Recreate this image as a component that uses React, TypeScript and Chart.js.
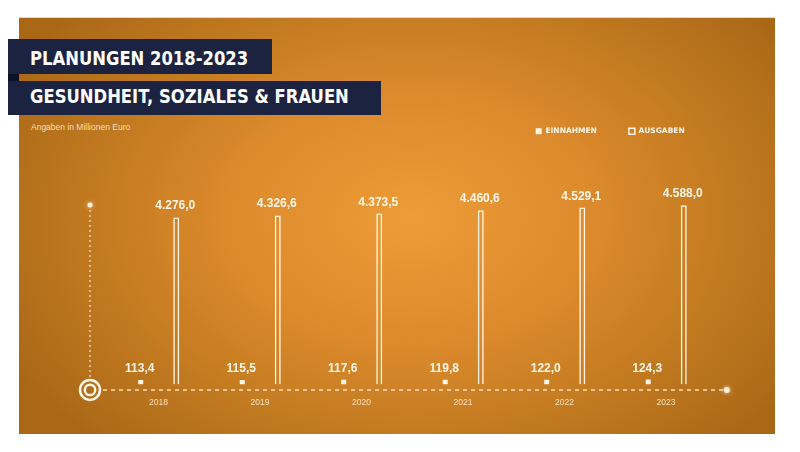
import React, { useEffect, useRef } from "react";
import { Chart, registerables } from "chart.js";

Chart.register(...registerables);

const years = ["2018", "2019", "2020", "2021", "2022", "2023"];
const einnahmen = [113.4, 115.5, 117.6, 119.8, 122.0, 124.3];
const ausgaben = [4276.0, 4326.6, 4373.5, 4460.6, 4529.1, 4588.0];
const seriesNames = ["EINNAHMEN", "AUSGABEN"];
const titleLines = ["PLANUNGEN 2018-2023", "GESUNDHEIT, SOZIALES & FRAUEN"];
const subtitleText = "Angaben in Millionen Euro";

const CREAM = "#fff6e8";

function fmt(v: number): string {
  const [i, d] = v.toFixed(1).split(".");
  const intPart = i.replace(/\B(?=(\d{3})+(?!\d))/g, ".");
  return intPart + "," + d;
}

const valueLabels = {
  id: "valueLabels",
  afterDatasetsDraw(chart: any) {
    const ctx = chart.ctx;
    ctx.save();
    ctx.fillStyle = CREAM;
    ctx.font = "bold 12px 'Liberation Sans', Arial, sans-serif";
    ctx.textAlign = "center";
    ctx.textBaseline = "alphabetic";
    chart.data.datasets.forEach((ds: any, di: number) => {
      const meta = chart.getDatasetMeta(di);
      meta.data.forEach((el: any, i: number) => {
        ctx.fillText(fmt(ds.data[i]), el.x - 1, el.y - 8);
      });
    });
    ctx.restore();
  },
};

const axisDecor = {
  id: "axisDecor",
  afterDraw(chart: any) {
    const ctx = chart.ctx;
    const ca = chart.chartArea;
    const ox = ca.left - 17.75;
    const oy = ca.bottom + 5.5;
    const xEnd = ca.right + 10;
    const yTop = ca.top + 60;
    ctx.save();
    ctx.strokeStyle = "rgba(255,240,215,0.85)";
    ctx.lineWidth = 1.5;
    ctx.setLineDash([4, 4]);
    ctx.beginPath();
    ctx.moveTo(ox + 13, oy);
    ctx.lineTo(xEnd - 3, oy);
    ctx.stroke();
    ctx.lineWidth = 1.3;
    ctx.setLineDash([2, 3]);
    ctx.beginPath();
    ctx.moveTo(ox, oy - 13);
    ctx.lineTo(ox, yTop + 3);
    ctx.stroke();
    ctx.setLineDash([]);
    ctx.fillStyle = "rgba(255,245,230,0.95)";
    ctx.shadowColor = "rgba(255,240,210,0.9)";
    ctx.shadowBlur = 4;
    ctx.beginPath();
    ctx.arc(xEnd, oy, 3, 0, Math.PI * 2);
    ctx.fill();
    ctx.beginPath();
    ctx.arc(ox, yTop, 2.5, 0, Math.PI * 2);
    ctx.fill();
    ctx.shadowBlur = 0;
    ctx.strokeStyle = CREAM;
    ctx.lineWidth = 2.5;
    ctx.beginPath();
    ctx.arc(ox, oy, 10, 0, Math.PI * 2);
    ctx.stroke();
    ctx.beginPath();
    ctx.arc(ox, oy, 5.2, 0, Math.PI * 2);
    ctx.stroke();
    ctx.restore();
  },
};

export default function App() {
  const canvasRef = useRef<HTMLCanvasElement | null>(null);

  useEffect(() => {
    if (!canvasRef.current) return;
    const chart = new Chart(canvasRef.current, {
      type: "bar",
      data: {
        labels: years,
        datasets: [
          {
            label: seriesNames[0],
            data: einnahmen,
            backgroundColor: CREAM,
            borderColor: CREAM,
            borderWidth: 0,
            maxBarThickness: 5,
            categoryPercentage: 0.7,
            barPercentage: 0.5,
          },
          {
            label: seriesNames[1],
            data: ausgaben,
            backgroundColor: "rgba(0,0,0,0)",
            borderColor: CREAM,
            borderWidth: 1.5,
            maxBarThickness: 6,
            categoryPercentage: 0.7,
            barPercentage: 0.5,
          },
        ],
      },
      options: {
        animation: false,
        responsive: true,
        maintainAspectRatio: false,
        layout: {
          padding: { top: 95.5, bottom: 31.4, left: 107.75, right: 83.25 },
        },
        plugins: {
          legend: {
            display: true,
            position: "top",
            align: "end",
            labels: {
              color: CREAM,
              boxWidth: 6,
              boxHeight: 6,
              padding: 32,
              font: { family: "'DejaVu Sans', sans-serif", size: 7.5, weight: "bold" },
            },
          },
          tooltip: { enabled: false },
          title: { display: false },
        },
        scales: {
          x: {
            grid: { display: false, drawTicks: false },
            border: { display: false },
            ticks: {
              color: "rgba(255,236,205,0.9)",
              padding: 13,
              font: { family: "'Liberation Sans', Arial, sans-serif", size: 8.5 },
            },
          },
          y: {
            display: false,
            min: 0,
            max: 6130,
            grid: { display: false },
          },
        },
      },
      plugins: [valueLabels, axisDecor],
    } as any);
    return () => chart.destroy();
  }, []);

  return (
    <div
      style={{
        position: "fixed",
        left: 0,
        top: 0,
        width: 800,
        height: 452,
        background: "#ffffff",
        overflow: "hidden",
      }}
    >
      <div
        style={{
          position: "absolute",
          left: 19,
          top: 17,
          width: 756,
          height: 416,
          background:
            "radial-gradient(ellipse 60% 75% at 52% 48%, #ee9c37 0%, #dc8a2c 40%, #c27a20 70%, #aa6817 100%)",
          borderTop: "1px solid #f3d9a8",
        }}
      />
      <div
        style={{
          position: "absolute",
          left: 8,
          top: 74,
          width: 11,
          height: 7,
          background: "#0d1224",
        }}
      />
      <div
        style={{
          position: "absolute",
          left: 8,
          top: 39,
          width: 264,
          height: 35,
          background: "#1b2340",
        }}
      />
      <div
        style={{
          position: "absolute",
          left: 8,
          top: 81,
          width: 373,
          height: 34,
          background: "#1b2340",
        }}
      />
      {titleLines.map((t, i) => (
        <div
          key={t}
          style={{
            position: "absolute",
            left: 30,
            top: i === 0 ? 48 : 86,
            fontFamily: "'DejaVu Sans', sans-serif",
            fontWeight: "bold",
            fontSize: 20,
            lineHeight: "20px",
            color: "#ffffff",
            whiteSpace: "nowrap",
            transform: "scaleX(0.82)",
            transformOrigin: "left top",
          }}
        >
          {t}
        </div>
      ))}
      <div
        style={{
          position: "absolute",
          left: 31,
          top: 122.8,
          fontFamily: "'Liberation Sans', Arial, sans-serif",
          fontSize: 8.5,
          lineHeight: "8.5px",
          color: "#f6dfbb",
          whiteSpace: "nowrap",
        }}
      >
        {subtitleText}
      </div>
      <canvas
        ref={canvasRef}
        style={{ position: "absolute", left: 0, top: 0, width: 800, height: 452 }}
      />
    </div>
  );
}
